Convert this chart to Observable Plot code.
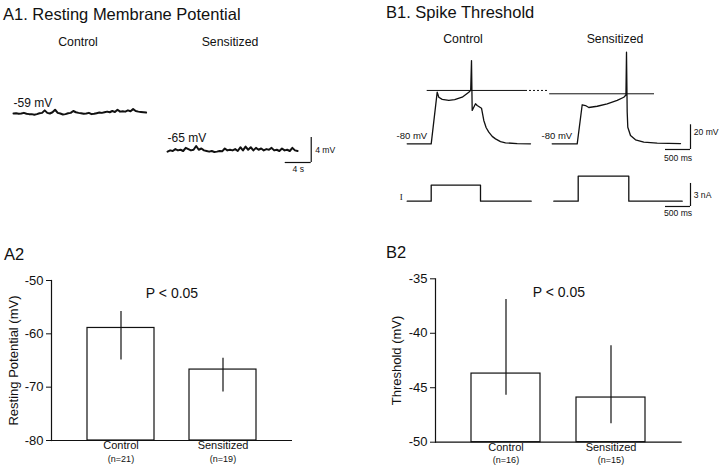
<!DOCTYPE html>
<html><head><meta charset="utf-8">
<script src="https://cdn.jsdelivr.net/npm/d3@7"></script>
<script src="https://cdn.jsdelivr.net/npm/@observablehq/plot@0.6"></script>
<style>
body{margin:0;background:#fff;}
#fig{position:relative;width:720px;height:470px;font-family:"Liberation Sans",Arial,Helvetica,sans-serif;color:#111;overflow:hidden;background:#fff}
.t{position:absolute;white-space:nowrap;line-height:1;}
.title{font-size:16.5px;transform:translateY(-50%);}
.head{font-size:12.3px;transform:translate(-50%,-50%);}
</style></head><body><div id="fig"></div>
<script>
// ---------- DATA ----------
// A1: resting membrane potential traces (mV), sampled every 0.4 s
const restDt = 0.4;
const controlRest = [-59,-58.95,-59.05,-59,-58.9,-59.05,-59.1,-59.1,-59.2,-59.1,-58.95,-58.9,-58.5,-58.9,-59,-58.8,-58.4,-58.9,-59,-59.15,-59.1,-58.95,-58.9,-58.6,-58.8,-58.9,-58.95,-59.05,-59,-58.9,-59.1,-59.05,-58.95,-58.85,-58.9,-58.8,-58.7,-58.8,-58.6,-58.75,-58.4,-58.7,-58.65,-58.7,-58.5,-58.65,-58.3,-58.6,-58.7,-58.75,-58.8,-58.85];
const sensRest = [-65.1,-64.9,-65,-64.7,-64.9,-64.8,-65,-64.5,-64.7,-64.9,-64.8,-64.2,-64.8,-64.6,-64.9,-65,-65.1,-65,-65.15,-65.1,-65,-65.05,-64.6,-64.9,-64.8,-64.9,-64.7,-65,-64.4,-64.9,-64.3,-64.8,-64.4,-64.9,-64.5,-64.8,-64.6,-64.9,-64.7,-64.8,-64.5,-64.9,-64.8,-65,-64.6,-64.9,-64.8,-65,-64.5,-64.9,-65];
const sensRestOffset = 23.7; // s, horizontal placement of second trace
const restLabels = ["-59 mV", "-65 mV"];

// B1: spike threshold voltage traces (time ms, mV)
const ctrlSpikeT = [0,480,600,632,700,832,950,1100,1232,1270,1286,1300,1366,1400,1486,1532,1580,1632,1700,1766,1866,1966,2200,2466];
const ctrlSpikeV = [-80,-80,-38.2,-42.3,-44.0,-44.9,-44.3,-42.3,-38.2,-36.6,-12.6,-53.0,-47.6,-49.0,-51.2,-61.1,-67,-70.6,-74,-76.0,-78.2,-79.2,-79.9,-80];
const sensSpikeT = [0,500,600,666,732,900,1100,1300,1432,1475,1486,1500,1512,1566,1666,1832,2100,2566];
const sensSpikeV = [-80,-80,-48.4,-49.0,-50.6,-49.6,-47.6,-44.9,-42.3,-40.5,-5.8,-54.4,-66.6,-73.3,-76.8,-78.7,-79.5,-79.8];
const sensOffsetMs = 2900;
const thresholds = [-36.8, -39.5];
// B1: injected current steps (time ms, nA)
const ctrlCurT = [0,480,480,1466,1466,2480];
const ctrlCurI = [0,0,2.1,2.1,0,0];
const sensCurT = [32,520,520,1532,1532,2600];
const sensCurI = [0,0,3.26,3.26,0,0];

// A2 / B2 bar charts
const groups = ["Control", "Sensitized"];
const restMean = [-58.9, -66.7];
const restLo = [-64.9, -70.9];
const restHi = [-55.8, -64.6];
const restN = ["(n=21)", "(n=19)"];
const thrMean = [-43.7, -45.9];
const thrLo = [-45.7, -48.3];
const thrHi = [-36.9, -41.15];
const thrN = ["(n=16)", "(n=15)"];

// ---------- DRAW ----------
const fig = document.getElementById("fig");
const FONT = "'Liberation Sans', Arial, Helvetica, sans-serif";
const INK = "#111";
function place(el, left, top) {
  el.style.position = "absolute";
  el.style.left = left + "px";
  el.style.top = top + "px";
  fig.appendChild(el);
}
function label(text, cls, left, top) {
  const d = document.createElement("div");
  d.className = "t " + cls;
  d.textContent = text;
  d.style.left = left + "px";
  d.style.top = top + "px";
  fig.appendChild(d);
}
const baseStyle = {fontFamily: FONT, color: INK, background: "transparent", overflow: "visible"};

// titles & headings
label("A1. Resting Membrane Potential", "title", 3, 13.5);
label("B1. Spike Threshold", "title", 386, 12);
label("A2", "title", 4, 254);
label("B2", "title", 386, 252);
label("Control", "head", 78, 42);
label("Sensitized", "head", 230, 42);
label("Control", "head", 463, 39);
label("Sensitized", "head", 615, 39);

// A1 traces
const ctrlRestData = controlRest.map((v, i) => ({t: i * restDt, v}));
const sensRestData = sensRest.map((v, i) => ({t: i * restDt + sensRestOffset, v}));
const a1 = Plot.plot({
  width: 360, height: 120, margin: 0,
  style: {...baseStyle, fontSize: "12px"},
  x: {domain: [-2, 53.38], axis: null},
  y: {domain: [-69.72, -50.52], axis: null},
  marks: [
    Plot.line(ctrlRestData, {x: "t", y: "v", stroke: INK, strokeWidth: 2}),
    Plot.line(sensRestData, {x: "t", y: "v", stroke: INK, strokeWidth: 2}),
    Plot.text([restLabels[0]], {x: 0, y: -57.3, text: d => d, textAnchor: "start", fontSize: 12}),
    Plot.text([restLabels[1]], {x: sensRestOffset, y: -62.9, text: d => d, textAnchor: "start", fontSize: 12}),
    // scale bar 4 mV / 4 s
    Plot.ruleX([45.8], {y1: -66.84, y2: -66.84 + 4, stroke: INK, strokeWidth: 1.2}),
    Plot.ruleY([-66.84], {x1: 45.8 - 4, x2: 45.8, stroke: INK, strokeWidth: 1.2}),
    Plot.text(["4 mV"], {x: 46.4, y: -64.9, text: d => d, textAnchor: "start", fontSize: 8.6}),
    Plot.text(["4 s"], {x: 43.8, y: -67.9, text: d => d, fontSize: 8.6})
  ]
});
place(a1, 0, 60);

// B1 voltage traces
const ctrlSpike = ctrlSpikeT.map((t, i) => ({t, v: ctrlSpikeV[i]}));
const sensSpike = sensSpikeT.map((t, i) => ({t: t + sensOffsetMs, v: sensSpikeV[i]}));
const b1 = Plot.plot({
  width: 340, height: 130, margin: 0,
  style: {...baseStyle, fontSize: "9.5px"},
  x: {domain: [-534, 6266], axis: null},
  y: {domain: [-101.62, 3.644], axis: null},
  marks: [
    Plot.ruleY([thresholds[0]], {x1: 400, x2: 2366, stroke: INK, strokeWidth: 1}),
    Plot.ruleY([thresholds[0]], {x1: 2366, x2: 2826, stroke: INK, strokeWidth: 1, strokeDasharray: "2,2"}),
    Plot.ruleY([thresholds[1]], {x1: 2850, x2: 4946, stroke: INK, strokeWidth: 1}),
    Plot.line(ctrlSpike, {x: "t", y: "v", stroke: INK, strokeWidth: 1.3}),
    Plot.line(sensSpike, {x: "t", y: "v", stroke: INK, strokeWidth: 1.3}),
    Plot.text(["-80 mV"], {x: 400, y: -73.3, text: d => d, textAnchor: "end", fontSize: 9.5}),
    Plot.text(["-80 mV"], {x: 400 + sensOffsetMs, y: -73.3, text: d => d, textAnchor: "end", fontSize: 9.5}),
    // scale bar 20 mV / 500 ms
    Plot.ruleX([5666], {y1: -84.6, y2: -64.6, stroke: INK, strokeWidth: 1.2}),
    Plot.ruleY([-84.6], {x1: 5166, x2: 5666, stroke: INK, strokeWidth: 1.2}),
    Plot.text(["20 mV"], {x: 5730, y: -70.5, text: d => d, textAnchor: "start", fontSize: 8.6}),
    Plot.text(["500 ms"], {x: 5416, y: -91.3, text: d => d, fontSize: 8.6})
  ]
});
place(b1, 380, 40);

// B1 current traces
const ctrlCur = ctrlCurT.map((t, i) => ({t, a: ctrlCurI[i]}));
const sensCur = sensCurT.map((t, i) => ({t: t + sensOffsetMs, a: sensCurI[i]}));
const b1i = Plot.plot({
  width: 340, height: 50, margin: 0,
  style: {...baseStyle, fontSize: "8.6px"},
  x: {domain: [-534, 6266], axis: null},
  y: {domain: [-2.516, 4.0], axis: null},
  marks: [
    Plot.line(ctrlCur, {x: "t", y: "a", stroke: INK, strokeWidth: 1.3}),
    Plot.line(sensCur, {x: "t", y: "a", stroke: INK, strokeWidth: 1.3}),
    Plot.text(["I"], {x: -120, y: 0.52, text: d => d, fontSize: 9, fontFamily: "'Liberation Serif', serif"}),
    Plot.ruleX([5666], {y1: -0.69, y2: 2.31, stroke: INK, strokeWidth: 1.2}),
    Plot.ruleY([-0.69], {x1: 5166, x2: 5666, stroke: INK, strokeWidth: 1.2}),
    Plot.text(["3 nA"], {x: 5730, y: 0.74, text: d => d, textAnchor: "start", fontSize: 8.6}),
    Plot.text(["500 ms"], {x: 5416, y: -1.6, text: d => d, fontSize: 8.6})
  ]
});
place(b1i, 380, 170);

// bar chart helper
function barChart({mean, lo, hi, n, domain, ticks, yLabel, ml, mr, mt, mb, labelOffset}) {
  const rows = groups.map((g, i) => ({g, mean: mean[i], lo: lo[i], hi: hi[i], n: n[i]}));
  const base = domain[0];
  return Plot.plot({
    width: 360, height: 230,
    marginLeft: ml, marginRight: mr, marginTop: mt, marginBottom: mb,
    style: {...baseStyle, fontSize: "13px"},
    x: {domain: groups, padding: 0.34, axis: null},
    y: {domain, ticks, tickSize: 5, tickPadding: 3, tickFormat: d => String(d),
        label: yLabel, labelAnchor: "center", labelOffset, labelArrow: "none"},
    marks: [
      Plot.barY(rows, {x: "g", y1: base, y2: "mean", fill: "white", stroke: INK, strokeWidth: 1.2}),
      Plot.ruleX(rows, {x: "g", y1: "lo", y2: "hi", stroke: INK, strokeWidth: 1.2}),
      Plot.ruleY([base], {stroke: INK, strokeWidth: 1.2}),
      Plot.frame({anchor: "left", stroke: INK, strokeWidth: 1.2}),
      Plot.text(rows, {x: "g", text: "g", frameAnchor: "bottom", dy: 8.5, fontSize: 11}),
      Plot.text(rows, {x: "g", text: "n", frameAnchor: "bottom", dy: 21, fontSize: 9}),
      Plot.text(["P < 0.05"], {text: d => d, frameAnchor: "top", dy: 8, fontSize: 14})
    ]
  });
}

const a2 = barChart({mean: restMean, lo: restLo, hi: restHi, n: restN, domain: [-80, -50],
  ticks: [-80, -70, -60, -50], yLabel: "Resting Potential (mV)", ml: 51, mr: 68, mt: 40, mb: 30, labelOffset: 43});
place(a2, 0, 240);

const b2 = barChart({mean: thrMean, lo: thrLo, hi: thrHi, n: thrN, domain: [-50, -35],
  ticks: [-50, -45, -40, -35], yLabel: "Threshold (mV)", ml: 75, mr: 38.3, mt: 38.3, mb: 28.3, labelOffset: 44});
place(b2, 360, 240);
</script>
</body></html>
